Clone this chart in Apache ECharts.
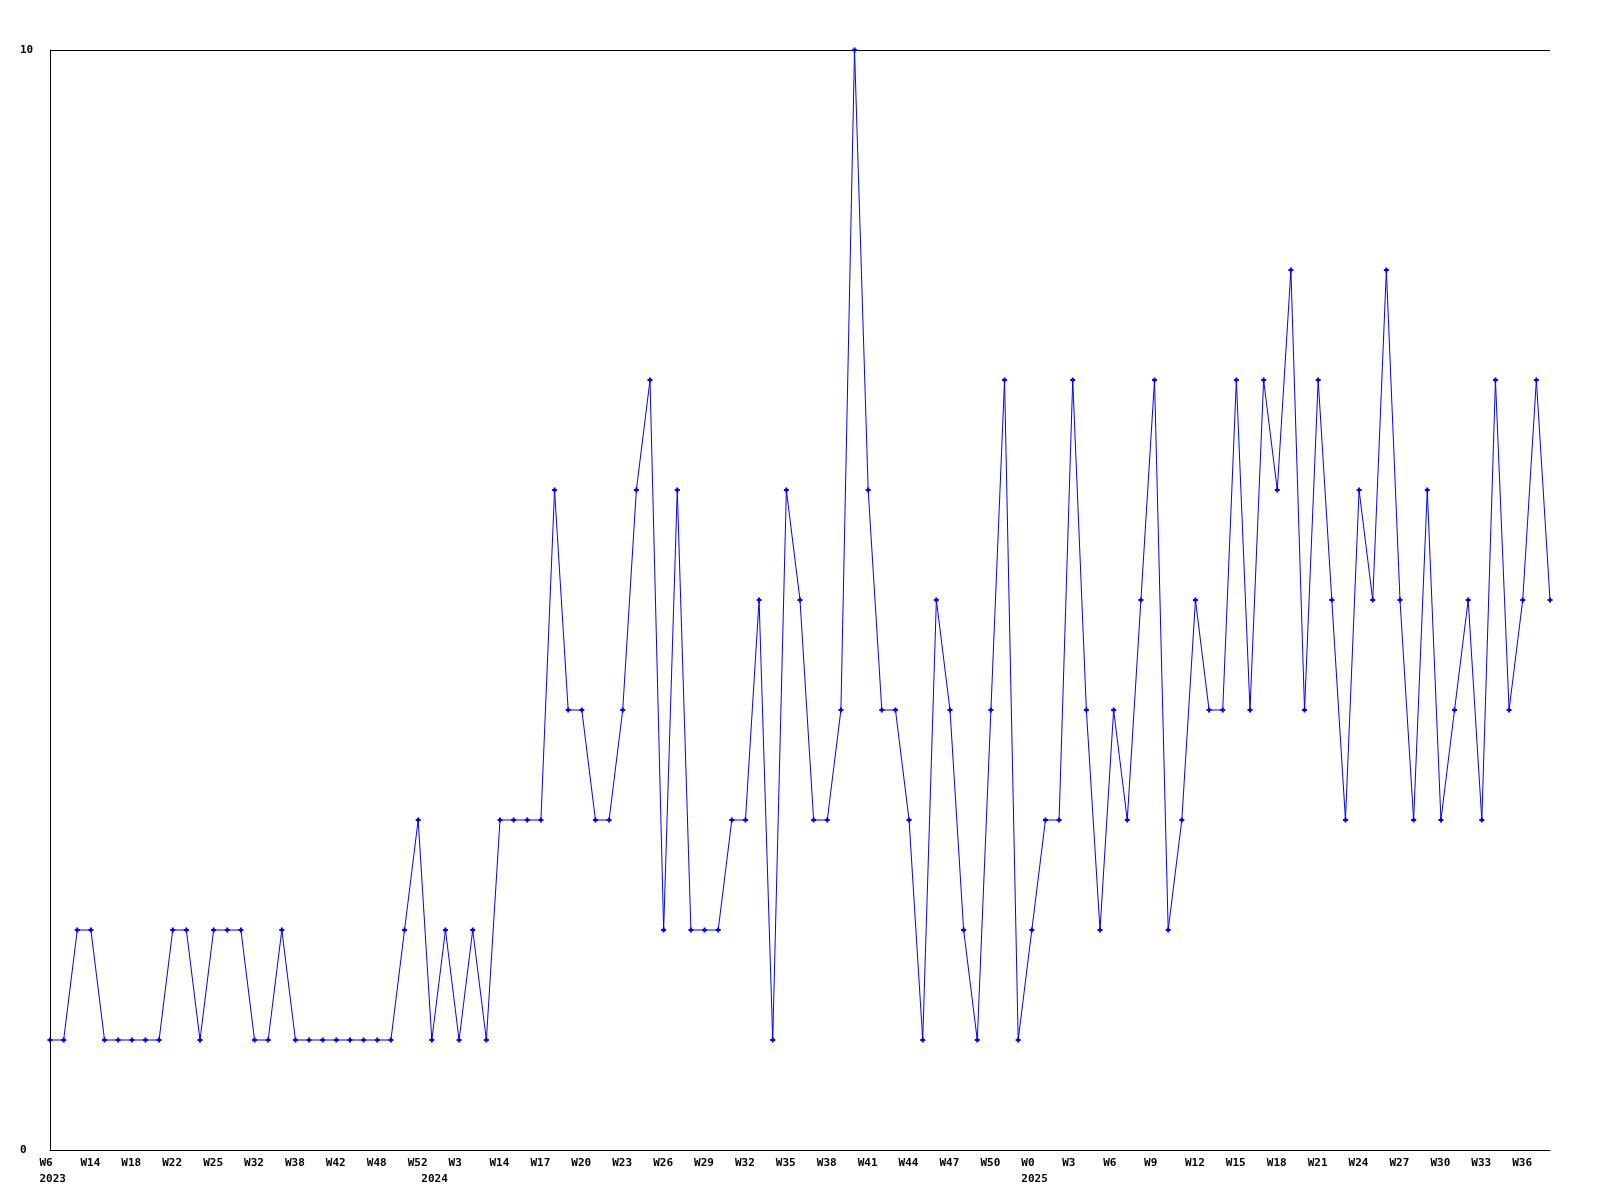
<!DOCTYPE html>
<html>
<head>
<meta charset="utf-8">
<script src="https://cdn.jsdelivr.net/npm/echarts@6/dist/echarts.min.js"></script>
<style>
html,body{margin:0;padding:0;background:#fff;}
#chart{width:1600px;height:1200px;}
</style>
</head>
<body>
<div id="chart"></div>
<script>
// Values per week (111 points)
const values = [
  1,1,2,2,1,1,1,1,1,2,
  2,1,2,2,2,1,1,2,1,1,
  1,1,1,1,1,1,2,3,1,2,
  1,2,1,3,3,3,3,6,4,4,
  3,3,4,6,7,2,6,2,2,2,
  3,3,5,1,6,5,3,3,4,10,
  6,4,4,3,1,5,4,2,1,4,
  7,1,2,3,3,7,4,2,4,3,
  5,7,2,3,5,4,4,7,4,7,
  6,8,4,7,5,3,6,5,8,5,
  3,6,3,4,5,3,7,4,5,7,
  5
];
// Week tick labels shown on every 3rd point
const tickLabels = [
  'W6','W14','W18','W22','W25','W32','W38','W42','W48','W52',
  'W3','W14','W17','W20','W23','W26','W29','W32','W35','W38',
  'W41','W44','W47','W50','W0','W3','W6','W9','W12','W15',
  'W18','W21','W24','W27','W30','W33','W36'
];
// Year labels and the point index where each year starts
const yearPointIndex = [0, 28, 72];
const yearLabels = ['2023', '2024', '2025'];
const yTicks = [0, 10];

const categories = values.map((v, i) => String(i));

const chart = echarts.init(document.getElementById('chart'), null, {renderer: 'canvas'});
const font = '"DejaVu Sans Mono", monospace';
chart.setOption({
  animation: false,
  backgroundColor: '#ffffff',
  grid: {left: 50, right: 50, top: 50, bottom: 50, containLabel: false},
  xAxis: {
    type: 'category',
    data: categories,
    boundaryGap: false,
    axisLine: {show: true, lineStyle: {color: '#000', width: 1}},
    axisTick: {show: false},
    splitLine: {show: false},
    axisLabel: {
      interval: 0,
      margin: 5,
      width: 21,
      align: 'center',
      lineHeight: 16,
      formatter: function (val) {
        const i = Number(val);
        const y = yearPointIndex.indexOf(i);
        const top = (i % 3 === 0) ? tickLabels[i / 3] : ' ';
        if (i % 3 !== 0 && y < 0) return '';
        let s = '{a|' + top + '}';
        if (y >= 0) s += '\n{a|' + yearLabels[y] + '}';
        return s;
      },
      rich: {
        a: {fontFamily: font, fontSize: 11, fontWeight: 'bold', color: '#000', lineHeight: 16, align: 'left'}
      }
    }
  },
  yAxis: {
    type: 'value',
    min: yTicks[0],
    max: yTicks[1],
    interval: 10,
    axisLine: {show: true, lineStyle: {color: '#000', width: 1}},
    axisTick: {show: false},
    splitLine: {show: true, lineStyle: {color: '#000', width: 1}},
    axisLabel: {
      align: 'left',
      margin: 30,
      fontFamily: font,
      fontSize: 11,
      fontWeight: 'bold',
      color: '#000'
    }
  },
  series: [{
    type: 'line',
    data: values,
    symbol: 'path://M1.5,0h2v1.5h1.5v2h-1.5v1.5h-2v-1.5h-1.5v-2h1.5z',
    symbolSize: 5,
    showAllSymbol: true,
    lineStyle: {color: '#0000ff', width: 1},
    itemStyle: {color: '#0000ff'},
    emphasis: {disabled: true}
  }]
});
</script>
</body>
</html>
